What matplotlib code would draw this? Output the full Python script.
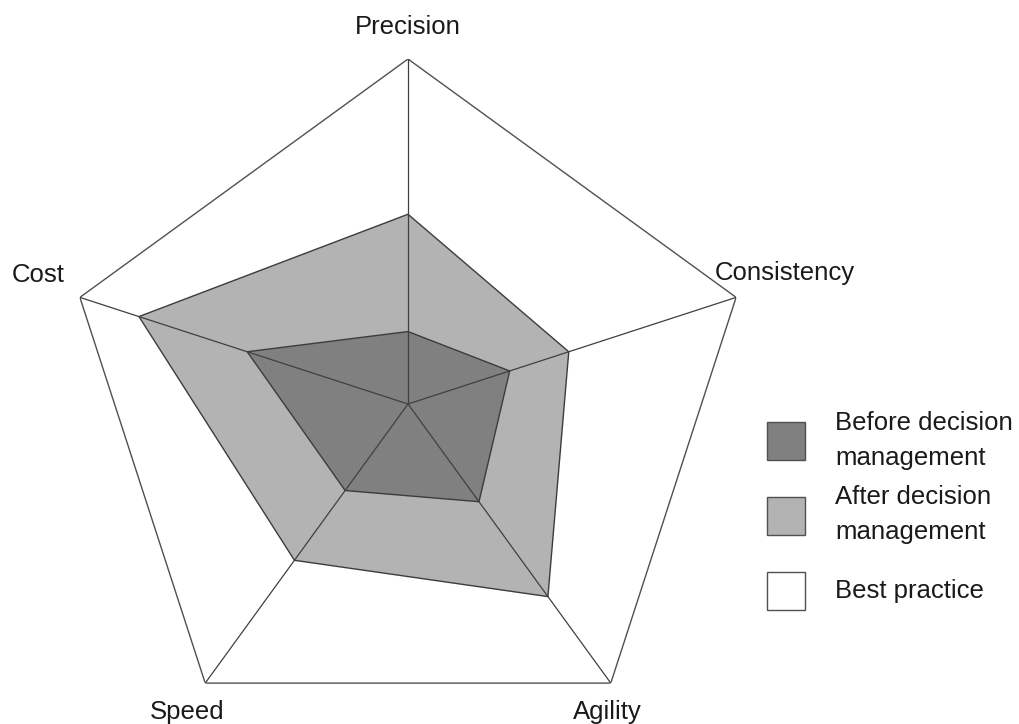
import numpy as np
import matplotlib
matplotlib.use("Agg")
import matplotlib.pyplot as plt
from matplotlib.patches import Rectangle

categories = ["Precision", "Consistency", "Agility", "Speed", "Cost"]
before = [0.21, 0.31, 0.35, 0.31, 0.49]
after = [0.55, 0.49, 0.69, 0.56, 0.82]
best = [1.0, 1.0, 1.0, 1.0, 1.0]
legend_labels = ["Before decision\nmanagement", "After decision\nmanagement", "Best practice"]

plt.rcParams['font.family'] = ['Liberation Sans', 'DejaVu Sans']

W, H = 1019, 724
fig = plt.figure(figsize=(W / 100, H / 100), dpi=100)
cx, cy, R = 408, 404, 345
ax = fig.add_axes([(cx - R) / W, (H - cy - R) / H, 2 * R / W, 2 * R / H], projection='polar')
ax.set_theta_offset(np.pi / 2)
ax.set_theta_direction(-1)
ax.set_ylim(0, 1)
ax.grid(False)
ax.spines['polar'].set_visible(False)
ax.set_xticks([])
ax.set_yticks([])
ax.patch.set_alpha(0)

n = len(categories)
theta = np.arange(n) * 2 * np.pi / n
tc = np.append(theta, theta[0])

def closed(v):
    return np.append(v, v[0])

edge = '#3c3c3c'
ax.fill(tc, closed(best), facecolor='white', edgecolor='#505050', linewidth=1.0, zorder=1)
ax.fill(tc, closed(after), facecolor='#b3b3b3', edgecolor=edge, linewidth=1.0, zorder=2)
ax.fill(tc, closed(before), facecolor='#808080', edgecolor=edge, linewidth=1.0, zorder=3)
for t in theta:
    ax.plot([t, t], [0, 1], color='#404040', linewidth=0.9, zorder=4)

fs = 18.5
label_pos = {"Precision": (408, 27), "Consistency": (785, 273), "Agility": (607, 712),
             "Speed": (187, 712), "Cost": (38, 275)}
for c in categories:
    x, y = label_pos[c]
    fig.text(x / W, 1 - y / H, c, ha='center', va='center', fontsize=fs, color='#1a1a1a')

colors = ['#808080', '#b3b3b3', 'white']
box_tops = [422, 497, 572]
text_y = [(423, 458), (497, 532), (591,)]
for col, top, lab, ty in zip(colors, box_tops, legend_labels, text_y):
    fig.add_artist(Rectangle((767 / W, 1 - (top + 38) / H), 38 / W, 38 / H,
                             transform=fig.transFigure, facecolor=col,
                             edgecolor='#505050', linewidth=1.0))
    for line, yy in zip(lab.split("\n"), ty):
        fig.text(835 / W, 1 - yy / H, line, ha='left', va='center', fontsize=fs, color='#1a1a1a')

fig.savefig("out.png", dpi=100, facecolor='white')
